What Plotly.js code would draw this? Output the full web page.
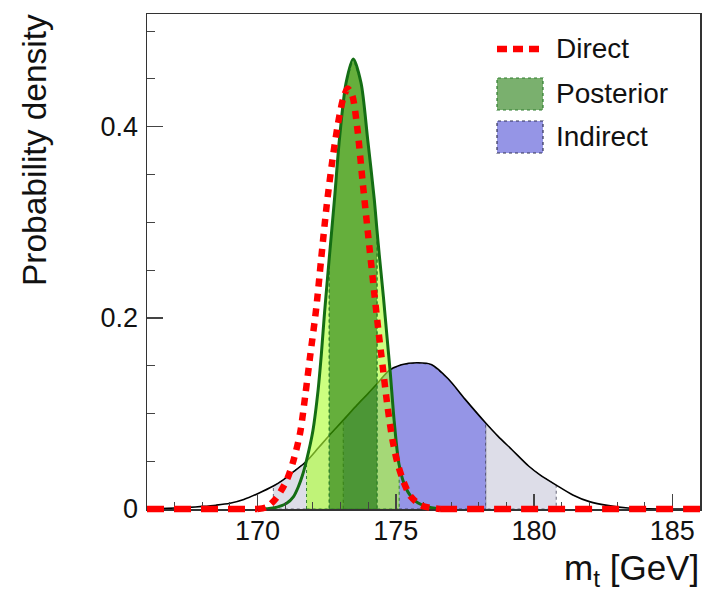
<!DOCTYPE html>
<html>
<head>
<meta charset="utf-8">
<script src="https://cdn.plot.ly/plotly-3.0.1.min.js"></script>
<style>html,body{margin:0;padding:0;background:#fff;}#chart{width:706px;height:598px;}</style>
</head>
<body>
<div id="chart"></div>
<script>
// ---- Data ----
const indirectX = [166, 166.5, 167, 167.5, 168, 168.5, 169, 169.5, 170, 170.57, 170.9, 171.3, 171.77, 172.2, 172.59, 173.1, 173.6, 174.0, 174.32, 174.76, 175.2, 175.8, 176.3, 176.9, 177.5, 178.25, 178.7, 179.2, 179.8, 180.2, 180.8, 181.4, 182.0, 182.7, 183.4, 184.5, 186];
const indirectY = [0, 0.0004, 0.001, 0.0017, 0.0027, 0.004, 0.006, 0.010, 0.016, 0.024, 0.030, 0.039, 0.050, 0.064, 0.077, 0.093, 0.109, 0.121, 0.131, 0.145, 0.151, 0.153, 0.151, 0.136, 0.115, 0.090, 0.076, 0.062, 0.045, 0.036, 0.025, 0.0147, 0.0077, 0.0035, 0.001, 0, 0];
const indirectBounds = [170.57, 173.1, 178.25, 180.8];   // 2σ low, 1σ low, 1σ high, 2σ high

const posteriorX = [170.0, 170.57, 171.05, 171.3, 171.47, 171.62, 171.77, 172.0, 172.19, 172.3, 172.42, 172.59, 172.78, 172.96, 173.2, 173.46, 173.74, 173.98, 174.22, 174.32, 174.4, 174.55, 174.68, 174.8, 174.94, 175.12, 175.36, 175.72, 176.2, 176.8];
const posteriorY = [0, 0.001, 0.006, 0.013, 0.023, 0.035, 0.051, 0.082, 0.125, 0.160, 0.205, 0.262, 0.324, 0.387, 0.446, 0.471, 0.446, 0.387, 0.324, 0.291, 0.266, 0.222, 0.180, 0.142, 0.092, 0.046, 0.022, 0.008, 0.002, 0];
const posteriorBounds = [171.77, 172.59, 174.32, 175.12];

const directX = [166, 170.0, 170.33, 170.69, 171.05, 171.29, 171.54, 171.72, 171.9, 172.12, 172.3, 172.5, 172.7, 172.9, 173.1, 173.26, 173.42, 173.6, 173.8, 174.04, 174.22, 174.38, 174.52, 174.7, 174.88, 175.06, 175.3, 175.54, 175.9, 176.3, 176.6, 186];
const directY = [0, 0, 0.002, 0.012, 0.030, 0.050, 0.080, 0.118, 0.160, 0.210, 0.262, 0.318, 0.364, 0.402, 0.430, 0.440, 0.433, 0.400, 0.342, 0.275, 0.226, 0.184, 0.150, 0.107, 0.072, 0.048, 0.027, 0.013, 0.004, 0.001, 0, 0];

const seriesNames = ['Direct', 'Posterior', 'Indirect'];

// ---- helpers ----
function region(xs, ys, a, b) {
  const px = [a], py = [0];
  for (let i = 0; i < xs.length; i++) {
    if (xs[i] >= a - 1e-9 && xs[i] <= b + 1e-9) { px.push(xs[i]); py.push(ys[i]); }
  }
  px.push(b); py.push(0);
  px.push(a); py.push(0);
  return {x: px, y: py};
}
function fillTrace(r, color, lineColor) {
  return {x: r.x, y: r.y, type: 'scatter', mode: 'lines', fill: 'toself',
    fillcolor: color, line: {color: lineColor, width: 1, dash: 'dot'},
    hoverinfo: 'skip', showlegend: false};
}

const IB = indirectBounds, PB = posteriorBounds;
const gray = 'rgb(221,221,232)', blue = 'rgb(149,149,230)';
const light = 'rgba(175,255,55,0.635)', mid = 'rgba(53,150,0,0.766)';

const traces = [];
traces.push(fillTrace(region(indirectX, indirectY, IB[0], IB[1]), gray, '#666677'));
traces.push(fillTrace(region(indirectX, indirectY, IB[2], IB[3]), gray, '#666677'));
traces.push(fillTrace(region(indirectX, indirectY, IB[1], IB[2]), blue, '#444466'));
traces.push({x: indirectX, y: indirectY, type: 'scatter', mode: 'lines', name: seriesNames[2],
  line: {color: '#000', width: 1.6, shape: 'spline', smoothing: 0.8}, hoverinfo: 'skip'});
traces.push(fillTrace(region(posteriorX, posteriorY, PB[0], PB[1]), light, '#2f7f2f'));
traces.push(fillTrace(region(posteriorX, posteriorY, PB[2], PB[3]), light, '#2f7f2f'));
traces.push(fillTrace(region(posteriorX, posteriorY, PB[1], PB[2]), mid, '#2f7f2f'));
traces.push({x: posteriorX, y: posteriorY, type: 'scatter', mode: 'lines', name: seriesNames[1],
  line: {color: '#146e14', width: 3, shape: 'spline', smoothing: 0.8}, hoverinfo: 'skip'});

// Direct: split into curved core and flat tails (different dash look as in reference)
let first = directY.findIndex(v => v > 0) - 1;
let last = directY.length - 1 - [...directY].reverse().findIndex(v => v > 0) + 1;
const red = '#ff0000';
traces.push({x: directX.slice(0, first + 1), y: directY.slice(0, first + 1), xaxis: 'x', yaxis: 'y2',
  type: 'scatter', mode: 'lines', line: {color: red, width: 6.5, dash: '17px,10px'}, hoverinfo: 'skip'});
traces.push({x: directX.slice(last), y: directY.slice(last), xaxis: 'x', yaxis: 'y2',
  type: 'scatter', mode: 'lines', line: {color: red, width: 6.5, dash: '17px,10px'}, hoverinfo: 'skip'});
traces.push({x: directX.slice(first, last + 1), y: directY.slice(first, last + 1), xaxis: 'x', yaxis: 'y2',
  name: seriesNames[0], type: 'scatter', mode: 'lines',
  line: {color: red, width: 6.5, dash: '8px,7px', shape: 'spline', smoothing: 0.8}, hoverinfo: 'skip'});

const FONT = 'Liberation Sans, Arial, Helvetica, sans-serif';
const plotH = 503, pxPerUnit = 955.6;

const layout = {
  width: 706, height: 598,
  margin: {l: 147, r: 6, t: 14, b: 81},
  paper_bgcolor: '#fff', plot_bgcolor: 'rgba(0,0,0,0)',
  showlegend: false,
  font: {family: FONT, color: '#111'},
  xaxis: {
    range: [166, 186], anchor: 'y', showgrid: false, zeroline: false,
    showline: true, linecolor: '#333', linewidth: 1.5, mirror: true,
    ticks: 'inside', tick0: 165, dtick: 5, ticklen: 15, tickwidth: 1.3, tickcolor: '#444',
    minor: {dtick: 1, tick0: 166, ticks: 'inside', ticklen: 7, tickwidth: 1, tickcolor: '#444'},
    tickfont: {family: FONT, size: 27, color: '#111'}, ticklabelstandoff: -3
  },
  yaxis: {
    domain: [8 / plotH, 1], range: [0, 0.518], anchor: 'x', showgrid: false, zeroline: false,
    showline: true, linecolor: '#333', linewidth: 1.5, mirror: true,
    ticks: 'inside', tick0: 0, dtick: 0.2, ticklen: 16, tickwidth: 1.3, tickcolor: '#444',
    minor: {dtick: 0.05, ticks: 'inside', ticklen: 8, tickwidth: 1, tickcolor: '#444'},
    tickfont: {family: FONT, size: 27, color: '#111'}, ticklabelstandoff: 2
  },
  yaxis2: {domain: [0, 1], range: [-8 / pxPerUnit, 0.518], anchor: 'x', visible: false,
    showgrid: false, zeroline: false},
  shapes: [
    {type: 'line', xref: 'paper', yref: 'paper', x0: 0.6329, x1: 0.7161, y0: 0.9304, y1: 0.9304,
      line: {color: red, width: 6.5, dash: '10px,6px'}},
    {type: 'rect', xref: 'paper', yref: 'paper', x0: 0.6329, x1: 0.7161, y0: 0.8091, y1: 0.8728,
      fillcolor: 'rgb(122,176,110)', line: {color: '#2e7d2e', width: 1.2, dash: 'dot'}},
    {type: 'rect', xref: 'paper', yref: 'paper', x0: 0.6329, x1: 0.7161, y0: 0.7237, y1: 0.7873,
      fillcolor: blue, line: {color: '#333355', width: 1.2, dash: 'dot'}}
  ],
  annotations: [
    {text: seriesNames[0], xref: 'paper', yref: 'paper', x: 0.7378, y: 0.9324, xanchor: 'left', yanchor: 'middle',
      showarrow: false, borderpad: 0, font: {family: FONT, size: 28, color: '#111'}},
    {text: seriesNames[1], xref: 'paper', yref: 'paper', x: 0.7378, y: 0.8429, xanchor: 'left', yanchor: 'middle',
      showarrow: false, borderpad: 0, font: {family: FONT, size: 28, color: '#111'}},
    {text: seriesNames[2], xref: 'paper', yref: 'paper', x: 0.7378, y: 0.7555, xanchor: 'left', yanchor: 'middle',
      showarrow: false, borderpad: 0, font: {family: FONT, size: 28, color: '#111'}},
    {text: 'm<sub>t</sub> [GeV]', xref: 'paper', yref: 'paper', x: 1.0, y: -0.1054, xanchor: 'right', yanchor: 'middle',
      showarrow: false, borderpad: 0, font: {family: FONT, size: 35, color: '#111'}},
    {text: 'Probability density', xref: 'paper', yref: 'paper', x: -0.2043, y: 0.7296, xanchor: 'center', yanchor: 'middle',
      textangle: -90, showarrow: false, borderpad: 0, font: {family: FONT, size: 33.5, color: '#111'}}
  ]
};

Plotly.newPlot('chart', traces, layout, {staticPlot: true, displayModeBar: false});
</script>
</body>
</html>
